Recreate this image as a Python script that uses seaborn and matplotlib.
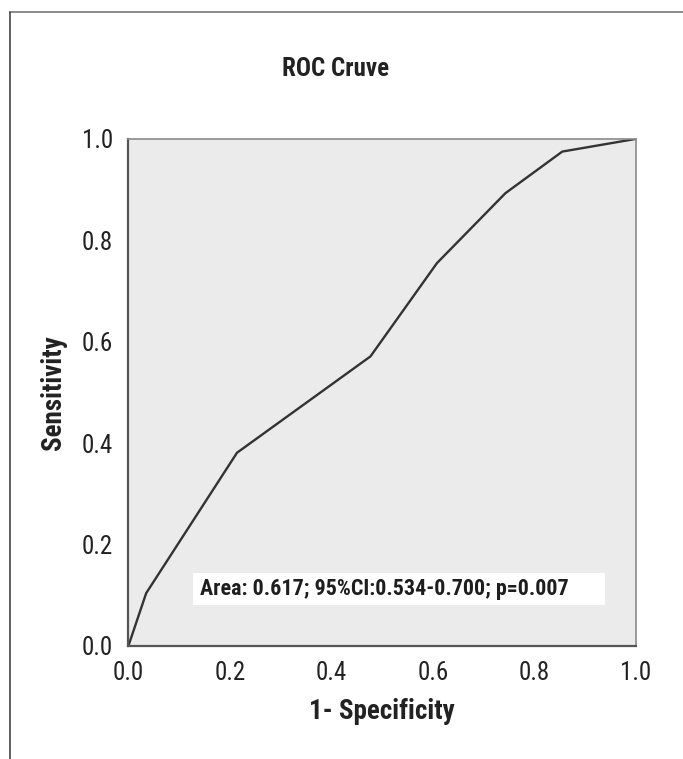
import matplotlib
matplotlib.use("Agg")
import matplotlib.pyplot as plt
import seaborn as sns
import pandas as pd
from matplotlib import font_manager as fm
from matplotlib.lines import Line2D
from matplotlib.patches import Rectangle

# ROC points
fpr = [0.0, 0.035, 0.214, 0.477, 0.608, 0.743, 0.855, 1.0]
tpr = [0.0, 0.104, 0.381, 0.571, 0.755, 0.893, 0.975, 1.0]
ticks = [0.0, 0.2, 0.4, 0.6, 0.8, 1.0]
tick_labels = ["0.0", "0.2", "0.4", "0.6", "0.8", "1.0"]
title = "ROC Cruve"
xlabel = "1- Specificity"
ylabel = "Sensitivity"
note = "Area: 0.617; 95%CI:0.534-0.700; p=0.007"

sns.set_style("white", {"axes.facecolor": "#ebebeb"})

# narrow sans to stand in for the condensed Helvetica of the original
installed = {f.name for f in fm.fontManager.ttflist}
narrow = next((n for n in ["Roboto Condensed", "Archivo Narrow",
                           "Barlow Semi Condensed", "Asap Condensed"]
               if n in installed), "DejaVu Sans")
plt.rcParams['font.family'] = [narrow, 'DejaVu Sans']

df = pd.DataFrame({"fpr": fpr, "tpr": tpr})

fig = plt.figure(figsize=(6.83, 7.59), dpi=100)
ax = fig.add_axes([0.188, 0.149, 0.743, 0.668])

sns.lineplot(data=df, x="fpr", y="tpr", sort=False, color="#333333",
             linewidth=1.7, ax=ax)

ax.set_xlim(0, 1)
ax.set_ylim(0, 1)
ax.set_xticks(ticks)
ax.set_xticklabels(tick_labels)
ax.set_yticks(ticks)
ax.set_yticklabels(tick_labels)
ax.tick_params(axis='both', direction='out', length=9, width=1.6,
               color="#555555", labelsize=18, labelcolor="#222222", pad=2)

for side in ["left", "bottom"]:
    ax.spines[side].set_color("#555555")
    ax.spines[side].set_linewidth(1.6)
for side in ["top", "right"]:
    ax.spines[side].set_color("#8a8a8a")
    ax.spines[side].set_linewidth(1.2)

ax.set_xlabel(xlabel, fontsize=19.5, fontweight='bold', color="#222222", labelpad=9)
ax.set_ylabel(ylabel, fontsize=19.5, fontweight='bold', color="#222222", labelpad=11)

# white label box behind the statistics line
ax.add_patch(Rectangle((0.128, 0.081), 0.812, 0.063, facecolor='white',
                       edgecolor='none', zorder=3))
ax.text(0.142, 0.112, note, fontsize=15.8, fontweight='bold', color="#1e1e1e",
        va='center', ha='left', zorder=4)

fig.text(0.492, 0.909, title, fontsize=18, fontweight='bold', color="#222222",
         ha='center', va='center')

# outer frame (top and left edges only, as in the source crop)
fx = 10 / 683
fy = 1 - 12 / 759
fig.add_artist(Line2D([fx, 1], [fy, fy], transform=fig.transFigure,
                      color="#777777", linewidth=1.2))
fig.add_artist(Line2D([fx, fx], [0, fy], transform=fig.transFigure,
                      color="#444444", linewidth=1.2))

fig.savefig("out.png", dpi=100)
